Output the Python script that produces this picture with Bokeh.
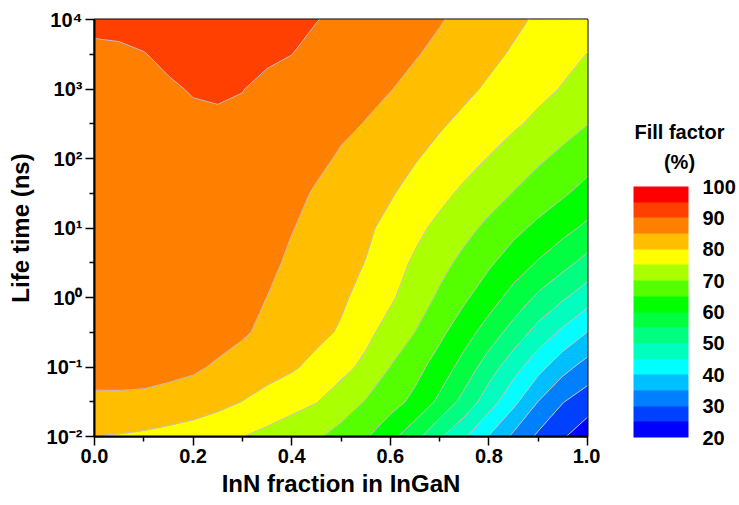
import numpy as np
from bokeh.plotting import figure
from bokeh.plotting.contour import contour_data
from bokeh.models import (Range1d, FixedTicker, PrintfTickFormatter, CustomJSTickFormatter,
                          ColumnDataSource, ColorBar, LinearColorMapper)
from bokeh.core.properties import value
from bokeh.layouts import row
from bokeh.embed import file_html
from bokeh.resources import INLINE

# ---------------- data ----------------
inn_fraction = [0.0, 0.05, 0.1, 0.15, 0.2, 0.25, 0.3, 0.35, 0.4, 0.45, 0.5,
                0.55, 0.6, 0.65, 0.7, 0.75, 0.8, 0.85, 0.9, 0.95, 1.0]
log10_lifetime_ns = [-2.0, -1.5, -1.0, -0.5, 0.0, 0.5, 1.0, 1.5, 2.0, 2.5, 3.0, 3.5, 4.0]

ff_m20 = [79.9, 79.64, 79.1, 78.2, 76.9, 76.0, 75.1, 73.65, 72.1, 70.6, 68.3, 65.55, 61.5, 56.8, 50.7, 45.7, 39.8, 33.96, 29.1, 25.5, 22.0]
ff_m15 = [84.4, 84.42, 84.35, 83.88, 83.38, 81.6, 79.9, 78.3, 76.75, 75.2, 72.5, 69.7, 66.95, 63.7, 58.96, 53.3, 47.3, 41.3, 34.9, 30.2, 27.4]
ff_m10 = [86.2, 86.2, 86.1, 85.9, 85.5, 84.6, 83.3, 81.9, 80.6, 78.7, 76.5, 73.85, 69.9, 66.7, 62.8, 58.1, 52.4, 47.0, 41.7, 36.7, 33.0]
ff_m05 = [87.0, 87.0, 86.95, 86.85, 86.6, 86.2, 85.5, 84.06, 82.6, 81.2, 79.5, 76.3, 73.1, 69.95, 66.15, 62.1, 57.8, 53.0, 48.2, 44.0, 39.95]
ff_p00 = [87.6, 87.6, 87.6, 87.55, 87.4, 87.1, 86.5, 84.97, 83.5, 82.1, 80.7, 78.5, 75.7, 72.5, 69.2, 65.75, 62.2, 58.2, 54.1, 50.6, 47.2]
ff_p05 = [88.0, 88.0, 88.0, 88.0, 87.9, 87.6, 87.1, 86.1, 84.2, 82.8, 81.4, 79.9, 77.1, 74.3, 71.5, 68.7, 65.7, 62.65, 59.6, 56.6, 53.4]
ff_p10 = [88.4, 88.4, 88.4, 88.4, 88.3, 88.1, 87.7, 87.0, 85.2, 83.6, 82.2, 80.75, 78.8, 76.2, 73.8, 71.4, 68.9, 66.3, 63.9, 61.5, 59.0]
ff_p15 = [88.7, 88.72, 88.75, 88.75, 88.7, 88.5, 88.1, 87.4, 86.2, 84.55, 83.2, 81.8, 80.4, 78.45, 76.3, 74.1, 72.0, 69.8, 67.7, 65.6, 63.3]
ff_p20 = [89.0, 89.05, 89.1, 89.15, 89.2, 89.15, 88.9, 88.3, 87.4, 86.0, 84.5, 83.1, 81.7, 80.3, 78.6, 76.7, 74.8, 72.7, 70.7, 68.8, 66.9]
ff_p25 = [89.25, 89.3, 89.4, 89.55, 89.7, 89.75, 89.6, 88.66, 87.7, 86.8, 85.85, 84.86, 83.4, 82.0, 80.5, 79.0, 77.3, 75.7, 73.9, 71.9, 70.1]
ff_p30 = [89.5, 89.55, 89.65, 89.82, 90.1, 90.2, 90.05, 89.5, 88.55, 87.7, 86.85, 86.0, 85.15, 83.8, 82.3, 80.9, 79.4, 77.8, 76.3, 74.7, 72.8]
ff_p35 = [89.75, 89.8, 89.95, 90.3, 90.6, 90.7, 90.6, 90.35, 90.03, 89.1, 88.2, 87.2, 86.3, 85.3, 84.0, 82.5, 81.0, 79.5, 77.9, 76.4, 74.9]
ff_p40 = [90.3, 90.35, 90.6, 90.9, 91.1, 91.2, 91.1, 90.8, 90.45, 90.1, 89.3, 88.3, 87.3, 86.3, 85.3, 83.9, 82.4, 80.9, 79.4, 77.9, 77.0]

fill_factor_rows = [ff_m20, ff_m15, ff_m10, ff_m05, ff_p00, ff_p05, ff_p10, ff_p15,
                    ff_p20, ff_p25, ff_p30, ff_p35, ff_p40]

levels = [20, 25, 30, 35, 40, 45, 50, 55, 60, 65, 70, 75, 80, 85, 90, 95, 100]
band_colors = ["#0000FF", "#0040FF", "#0080FF", "#00BFFF", "#00FFFF", "#00FFBF",
               "#00FF80", "#00FF40", "#00FF00", "#55FF00", "#AAFF00", "#FFFF00",
               "#FFBF00", "#FF8000", "#FF4000", "#FF0000"]
colorbar_ticks = [20, 30, 40, 50, 60, 70, 80, 90, 100]
colorbar_title_lines = ["Fill factor", "(%)"]
x_ticks = [0.0, 0.2, 0.4, 0.6, 0.8, 1.0]
x_minor_ticks = [0.1, 0.3, 0.5, 0.7, 0.9]
y_tick_exponents = [-2, -1, 0, 1, 2, 3, 4]

FONT = "Liberation Sans"

# ---------------- main contour figure ----------------
cd = contour_data(x=np.array(inn_fraction), y=np.array(log10_lifetime_ns),
                  z=np.array(fill_factor_rows), levels=levels)
fd = cd.fill_data
ld = cd.line_data

fill_ys = [[[np.power(10.0, ring) for ring in poly] for poly in band] for band in fd.ys]
fill_src = ColumnDataSource(dict(xs=fd.xs, ys=fill_ys, color=band_colors[:len(fd.xs)]))
line_ys = [np.power(10.0, a) for a in ld.ys]
line_src = ColumnDataSource(dict(xs=ld.xs, ys=line_ys))

TOP, BOTTOM = 19, 69
p = figure(width=600, height=505, x_range=Range1d(0, 1), y_range=Range1d(1e-2, 1e4),
           y_axis_type="log", output_backend="svg", toolbar_location=None,
           min_border_left=94, min_border_right=13, min_border_top=TOP,
           min_border_bottom=BOTTOM)
p.multi_polygons(xs="xs", ys="ys", fill_color="color", line_color="color", line_width=0.8,
                 source=fill_src)
p.multi_line(xs="xs", ys="ys", line_color="#C0C0C0", line_width=1, source=line_src)

p.grid.visible = False
p.outline_line_color = "black"
p.outline_line_width = 2
p.outline_line_alpha = 1

p.xaxis.ticker = FixedTicker(ticks=x_ticks, minor_ticks=x_minor_ticks)
p.xaxis.formatter = PrintfTickFormatter(format="%.1f")
p.yaxis.ticker = FixedTicker(ticks=[10.0 ** e for e in y_tick_exponents],
                             minor_ticks=[10.0 ** (e + 0.5) for e in y_tick_exponents[:-1]])
p.yaxis.formatter = CustomJSTickFormatter(code="""
const sup = {"-": "\u207b", "0": "\u2070", "1": "\u00b9", "2": "\u00b2", "3": "\u00b3",
             "4": "\u2074", "5": "\u2075", "6": "\u2076", "7": "\u2077", "8": "\u2078", "9": "\u2079"};
const e = Math.round(Math.log10(tick));
return "10" + String(e).split("").map(c => sup[c]).join("");
""")

for ax in (p.xaxis[0], p.yaxis[0]):
    ax.axis_line_width = 2
    ax.axis_line_color = "black"
    ax.major_tick_out = 9
    ax.major_tick_in = 0
    ax.minor_tick_out = 5
    ax.minor_tick_in = 0
    ax.major_tick_line_width = 1.5
    ax.minor_tick_line_width = 1.5
    ax.major_tick_line_color = "black"
    ax.minor_tick_line_color = "black"
    ax.major_label_text_font = FONT
    ax.major_label_text_font_style = "bold"
    ax.major_label_text_font_size = "20px"
    ax.major_label_text_color = "black"
    ax.major_label_standoff = 3
    ax.axis_label_text_font = FONT
    ax.axis_label_text_font_style = "bold"
    ax.axis_label_text_font_size = "24px"
    ax.axis_label_text_color = "black"

p.xaxis.axis_label = "InN fraction in InGaN"
p.yaxis.axis_label = "Life time (ns)"
p.xaxis.axis_label_standoff = 4
p.yaxis.axis_label_standoff = 10

# ---------------- colour-bar figure (frame covers its whole width) ----------------
CB_W = 139
frame_h = 505 - TOP - BOTTOM
cb = figure(width=CB_W, height=505, x_range=Range1d(0, CB_W), y_range=Range1d(0, frame_h),
            output_backend="svg", toolbar_location=None, x_axis_location=None,
            y_axis_location=None, min_border_left=0, min_border_right=0,
            min_border_top=TOP, min_border_bottom=BOTTOM)
cb.grid.visible = False
cb.outline_line_color = None

mapper = LinearColorMapper(palette=band_colors, low=levels[0], high=levels[-1])
color_bar = ColorBar(color_mapper=mapper, ticker=FixedTicker(ticks=colorbar_ticks),
                     width=55, height=251, location=(33, -1), padding=0, margin=0,
                     bar_line_color=None, border_line_color=None,
                     background_fill_alpha=0, major_tick_line_color=None,
                     minor_tick_line_color=None, major_tick_out=0, major_tick_in=0,
                     label_standoff=14, major_label_text_font=FONT,
                     major_label_text_font_style="bold", major_label_text_font_size="20px",
                     major_label_text_color="black")
cb.add_layout(color_bar, "center")

# title lines, in this figure's pixel-like frame units
cb.text(x=[79, 79], y=[frame_h - 112, frame_h - 142], text=colorbar_title_lines,
        text_align="center", text_baseline="middle", text_font=value(FONT),
        text_font_style="bold", text_font_size="20px", text_color="black")

layout = row(p, cb)
open("out.html", "w").write(file_html(layout, INLINE, title="Fill factor contour"))
